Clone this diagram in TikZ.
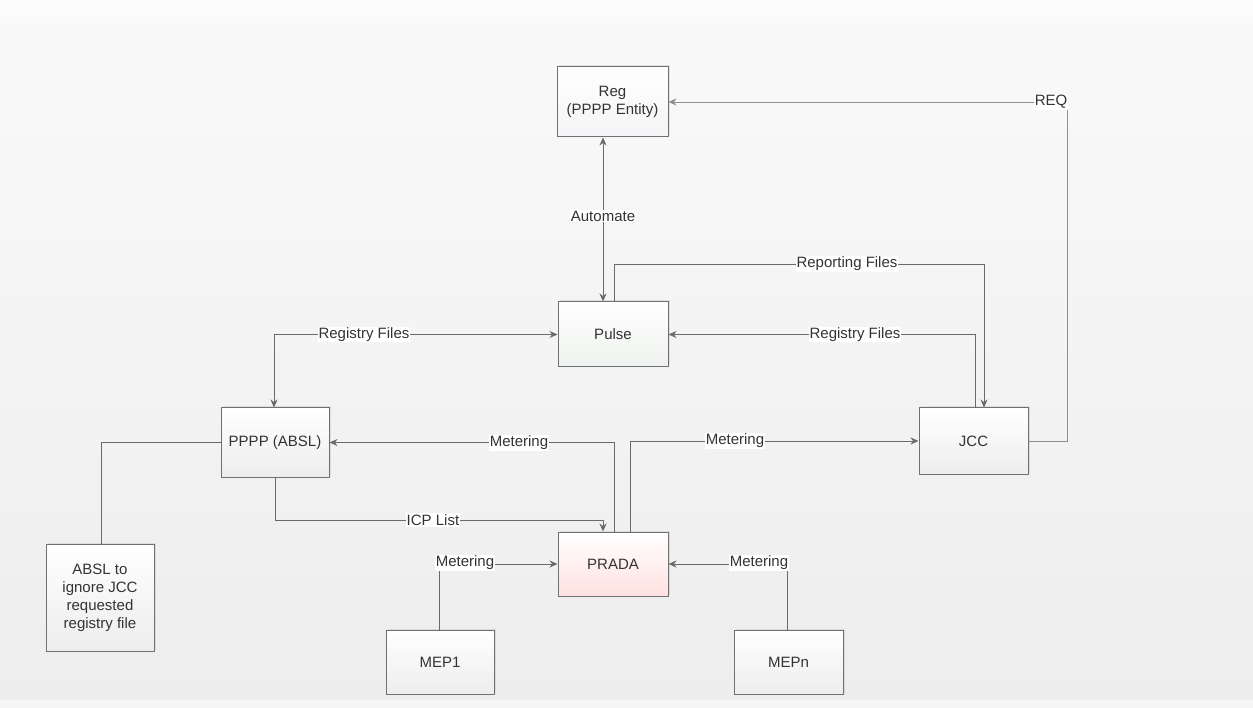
\documentclass[tikz,border=0pt]{standalone}
\usepackage{fontspec}
\setmainfont{Liberation Sans}
\usetikzlibrary{arrows.meta,shadows}
\definecolor{linec}{HTML}{6A6A6A}
\definecolor{boxline}{HTML}{707070}
\definecolor{txt}{HTML}{333333}
\tikzset{
  box/.style={draw=boxline, line width=1pt, rectangle, inner sep=2pt,
    top color=white, bottom color=gray!14, text=txt, align=center,
    font=\fontsize{15}{18}\selectfont,
    drop shadow={shadow xshift=1.5pt, shadow yshift=1.5pt, opacity=0.18, fill=gray}},
  conn/.style={draw=linec, line width=0.9pt},
  tip/.tip={Stealth[length=8pt,width=7pt]},
  arr/.style={-tip},
  lbl/.style={fill=white, text=txt, inner sep=1pt, font=\fontsize{15}{18}\selectfont}
}
\begin{document}
\begin{tikzpicture}[x=1pt,y=-1pt]
\useasboundingbox (0,0) rectangle (1253,708);
\shade[top color=gray!4, bottom color=gray!14] (0,0) rectangle (1253,700);
\fill[gray!3] (0,0) rectangle (1253,14);
\fill[gray!8] (0,700) rectangle (1253,708);

% nodes
\node[box, minimum width=111, minimum height=70, top color=white, bottom color=blue!10!gray!8!white] (reg) at (612.5,102) {Reg\\(PPPP Entity)};
\node[box, minimum width=110, minimum height=65, top color=white, bottom color=green!12!gray!12!white] (pulse) at (613,334.5) {Pulse};
\node[box, minimum width=108, minimum height=69] (pppp) at (275,442.5) {PPPP (ABSL)};
\node[box, minimum width=109, minimum height=66] (jcc) at (973.5,441) {JCC};
\node[box, minimum width=110, minimum height=64, top color=white, bottom color=red!12!white] (prada) at (613,564) {PRADA};
\node[box, minimum width=108, minimum height=107, font=\fontsize{15}{18}\selectfont] (absl) at (100,597.5) {ABSL to\\ignore JCC\\requested\\registry file};
\node[box, minimum width=108, minimum height=64] (mepa) at (440,662) {MEP1};
\node[box, minimum width=109, minimum height=64] (mepn) at (788.5,662) {MEPn};

% helper coordinates
\coordinate (xa) at (603,0);
\coordinate (xrep) at (614,0);
\coordinate (xjr) at (984,0);
\coordinate (xjl) at (975,0);
\coordinate (xrl) at (274,0);
\coordinate (xpm1) at (614,0);
\coordinate (xpm2) at (630,0);
\coordinate (xicp) at (275,0);
\coordinate (xicpd) at (603,0);
\coordinate (xab) at (101,0);
\coordinate (xm1) at (439,0);
\coordinate (xmn) at (787,0);
\coordinate (reqc) at (1067,102);
\coordinate (repc) at (984,264);
\coordinate (icpc) at (603,520);

% connectors
\draw[conn, tip-tip] (reg.south -| xa) -- (pulse.north -| xa);
\node[lbl] (lauto) at (603,216) {Automate};

\draw[conn, arr] (pulse.north -| xrep) |- (repc) -- (jcc.north -| xjr);
\node[lbl] (lrep) at (847,264) {Reporting Files};

\draw[conn, arr] (jcc.north -| xjl) |- (pulse.east);
\node[lbl] (lreg2) at (855,334.5) {Registry Files};

\draw[conn, tip-tip] (pulse.west) -| (pppp.north -| xrl);
\node[lbl] (lreg1) at (364,334.5) {Registry Files};

\draw[conn, arr] (prada.north -| xpm1) |- (pppp.east);
\node[lbl] (lmet1) at (519,443) {Metering};

\draw[conn, arr] (prada.north -| xpm2) |- (jcc.west);
\node[lbl] (lmet2) at (735,441) {Metering};

\draw[conn, arr] (pppp.south -| xicp) |- (icpc) -- (prada.north -| xicpd);
\node[lbl] (licp) at (433,520) {ICP List};

\draw[conn] (absl.north -| xab) |- (pppp.west);

\draw[conn, arr] (mepa.north -| xm1) |- (prada.west);
\node[lbl] (lmet3) at (465,563) {Metering};

\draw[conn, arr] (mepn.north -| xmn) |- (prada.east);
\node[lbl] (lmet4) at (759,563) {Metering};

\draw[conn, arr, draw=linec!75] (jcc.east) -| (reqc) -- (reg.east);
\node[lbl] (lreq) at (1051,102) {REQ};
\end{tikzpicture}
\end{document}
